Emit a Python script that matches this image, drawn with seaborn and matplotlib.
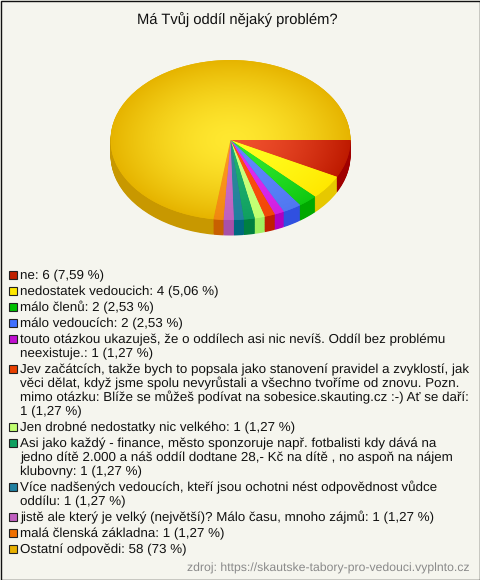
import matplotlib.pyplot as plt
import numpy as np
import seaborn as sns
from matplotlib.patches import Rectangle

labels = [
    "ne: 6 (7,59 %)",
    "nedostatek vedoucich: 4 (5,06 %)",
    "málo členů: 2 (2,53 %)",
    "málo vedoucích: 2 (2,53 %)",
    "touto otázkou ukazuješ, že o oddílech asi nic nevíš. Oddíl bez problému\nneexistuje.: 1 (1,27 %)",
    "Jev začátcích, takže bych to popsala jako stanovení pravidel a zvyklostí, jak\nvěci dělat, když jsme spolu nevyrůstali a všechno tvoříme od znovu. Pozn.\nmimo otázku: Blíže se můžeš podívat na sobesice.skauting.cz :-) Ať se daří:\n1 (1,27 %)",
    "Jen drobné nedostatky nic velkého: 1 (1,27 %)",
    "Asi jako každý - finance, město sponzoruje např. fotbalisti kdy dává na\njedno dítě 2.000 a náš oddíl dodtane 28,- Kč na dítě , no aspoň na nájem\nklubovny: 1 (1,27 %)",
    "Více nadšených vedoucích, kteří jsou ochotni nést odpovědnost vůdce\noddílu: 1 (1,27 %)",
    "jistě ale který je velký (největší)? Málo času, mnoho zájmů: 1 (1,27 %)",
    "malá členská základna: 1 (1,27 %)",
    "Ostatní odpovědi: 58 (73 %)",
]
# slice sizes as they appear in the picture, in degrees
slice_degrees = [27.4, 17.7, 9.4, 9.1, 4.7, 5.1, 4.9, 5.3, 4.8, 5.0, 4.8, 261.8]
centre_colors = ["#F0502D", "#FFFF20", "#30E830", "#6088FF", "#E030F0", "#FF5010",
                 "#CCFF80", "#20B070", "#308898", "#C870C8", "#FF9820", "#FFE830"]
edge_colors = ["#BE1A00", "#FFE800", "#10C810", "#5078F0", "#D020E0", "#F04808",
               "#C0FF70", "#10A060", "#2080A0", "#C060C0", "#F08810", "#E6B400"]
side_colors = ["#A00000", "#E6C800", "#00A800", "#3050E0", "#B000C0", "#C02000",
               "#A0F060", "#008040", "#006880", "#A850A8", "#C86000", "#C89800"]
swatch_colors = ["#C02000", "#FFE800", "#00C000", "#4070FF", "#C010D0", "#E84000",
                 "#C0FF70", "#10A060", "#2080A0", "#C060C0", "#F07000", "#E8B000"]

title = "Má Tvůj oddíl nějaký problém?"
source = "zdroj: https://skautske-tabory-pro-vedouci.vyplnto.cz"
BG = "#F5F5EE"

sns.set_theme(style="white")
plt.rcParams["font.family"] = ["Liberation Sans", "DejaVu Sans"]
plt.rcParams["text.hinting"] = "no_hinting"

W, H = 480, 580
fig = plt.figure(figsize=(W / 100, H / 100), dpi=100, facecolor=BG)

# whole figure in pixels, for the texts and the frame
bg = fig.add_axes([0, 0, 1, 1])
bg.set_xlim(0, W)
bg.set_ylim(H, 0)
bg.axis("off")
bg.add_patch(Rectangle((0.5, 0.5), W - 1, H - 1, fill=False, ec="#111111", lw=1))

# the pie, squashed: 120 x 80 px radius
rx, ry, cx, cy = 120, 80, 230.5, 140
low = 1.25
ax = fig.add_axes([(cx - rx) / W, 1 - (cy + ry * low) / H, 2 * rx / W, ry * (1 + low) / H])

depth = 15.5 / ry
for d in np.linspace(depth, 0.01, 24):
    ax.pie(slice_degrees, colors=sns.color_palette(side_colors), startangle=0, counterclock=False,
           center=(0, -d), radius=1, wedgeprops={"linewidth": 0})

top, _ = ax.pie(slice_degrees, colors=sns.color_palette(edge_colors), startangle=0, counterclock=False,
                radius=1, wedgeprops={"linewidth": 0})

# radial shading of the top face, bright in the middle and dark only near the rim
yy, xx = np.mgrid[1:-1:320j, -1:1:480j]
rr = np.clip(np.hypot(xx, yy), 0, 1)[..., None] ** 1.6
for wedge, c0, c1 in zip(top, sns.color_palette(centre_colors), sns.color_palette(edge_colors)):
    img = np.array(c0) * (1 - rr) + np.array(c1) * rr
    im = ax.imshow(img, extent=(-1, 1, -1, 1), aspect="auto", zorder=3)
    im.set_clip_path(wedge)

ax.set_xlim(-1, 1)
ax.set_ylim(-low, 1)
ax.set_aspect("auto")
ax.axis("off")

bg.text(237, 24, title, ha="center", va="baseline", fontsize=10.65, color="#111111")
bg.text(194.5, 119, "73 %", ha="center", va="baseline", fontsize=7.8, color="#111111", zorder=5)

# legend, drawn by hand because the rows wrap
y = 274
for label, color in zip(labels, swatch_colors):
    bg.add_patch(Rectangle((9, y - 3.5), 8, 8, fc=color, ec="#222222", lw=0.8))
    lines = label.split("\n")
    for i, line in enumerate(lines):
        bg.text(20.5, y + 5 + i * 14, line, ha="left", va="baseline", fontsize=9.62, color="#111111")
    y += 16 + (len(lines) - 1) * 14

bg.text(470, 571.5, source, ha="right", va="baseline", fontsize=8.8, color="#8A8A8A")

fig.savefig("out.png", dpi=100, facecolor=BG)
